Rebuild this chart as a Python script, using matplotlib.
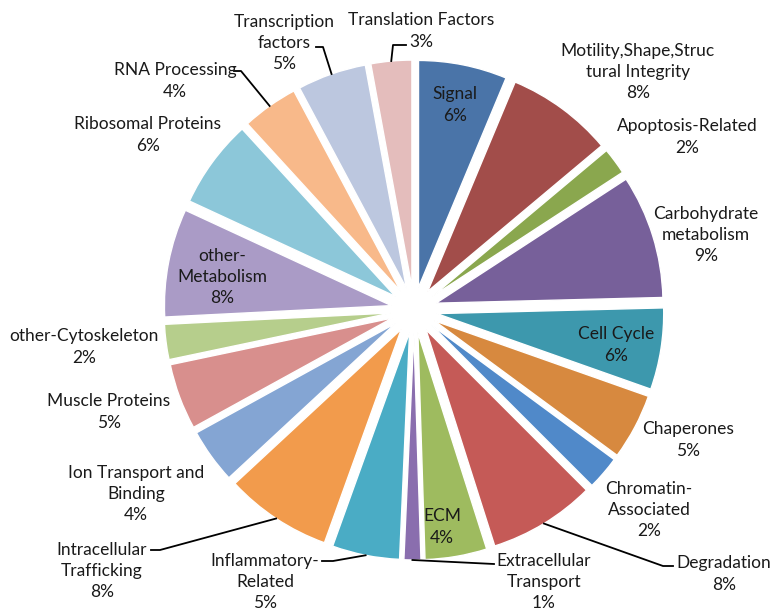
import matplotlib as mpl
mpl.use('Agg')
import matplotlib.pyplot as plt
import numpy as np

# data, clockwise from 12 o'clock
categories = ['Signal', 'Motility,Shape,Struc\ntural Integrity', 'Apoptosis-Related',
              'Carbohydrate\nmetabolism', 'Cell Cycle', 'Chaperones',
              'Chromatin-\nAssociated', 'Degradation', 'ECM', 'Extracellular\nTransport',
              'Inflammatory-\nRelated', 'Intracellular\nTrafficking', 'Ion Transport and\nBinding',
              'Muscle Proteins', 'other-Cytoskeleton', 'other-\nMetabolism',
              'Ribosomal Proteins', 'RNA Processing', 'Transcription\nfactors',
              'Translation Factors']
share = [6.3, 7.6, 1.9, 8.8, 5.8, 4.7, 2.4, 7.6, 4.4, 1.2,
         4.8, 7.6, 3.9, 4.7, 2.5, 7.7, 6.3, 4.0, 4.9, 2.9]

colors = ['#4a74a8', '#a24d4a', '#8aa74e', '#77609a', '#3d98ad', '#d7893f',
          '#5089c9', '#c55a57', '#9ebb5f', '#8a6eae', '#4aacc5', '#f29b4c',
          '#84a5d3', '#d88f8d', '#b6ce8c', '#aa9bc6', '#8cc7d9', '#f8b98a',
          '#bcc7df', '#e4bdbc']

# layout (image pixels, y measured downward)
W, H = 774, 611
cx, cy = 414, 310
R = 227
gap = 23
label_xy = [(455, 105), (638, 72), (687, 137), (706, 235), (616, 345), (688, 440),
            (649, 510), (724, 574), (442, 527), (544, 582), (265, 582), (102, 571),
            (136, 494), (109, 412), (84, 347), (222, 277), (148, 135), (175, 81),
            (284, 43), (421, 31)]
leaders = {7: [(673, 566), (663, 566)],
           9: [(494, 564)],
           10: [(322, 561), (333, 561)],
           11: [(151, 550), (160, 550)],
           17: [(234, 71), (241, 71)],
           18: [(316, 47), (323, 47)],
           19: [(406, 45), (393, 45)]}

plt.rcParams['font.family'] = ['Lato', 'DejaVu Sans']

fig = plt.figure(figsize=(W/100, H/100), dpi=100)
ax = fig.add_axes([0, 0, 1, 1])

# explode is in data units here
wedges, _ = ax.pie(share, colors=colors, startangle=90, counterclock=False,
                   center=(cx, H-cy), radius=R, explode=[gap]*len(share),
                   wedgeprops=dict(edgecolor='white', linewidth=1))
ax.set_xlim(0, W)
ax.set_ylim(0, H)
ax.set_aspect('equal')
ax.axis('off')

total = sum(share)
for i, (name, v) in enumerate(zip(categories, share)):
    x, y = label_xy[i]
    ax.text(x, H-y, '%s\n%.0f%%' % (name, 100*v/total), ha='center', va='center',
            fontsize=12.5, linespacing=1.42, color='#1a1a1a')

for i, pts in leaders.items():
    w = wedges[i]
    mid = np.deg2rad((w.theta1 + w.theta2)/2)
    ex = w.center[0] + w.r*np.cos(mid)
    ey = w.center[1] + w.r*np.sin(mid)
    xs = [p[0] for p in pts] + [ex]
    ys = [H-p[1] for p in pts] + [ey]
    ax.plot(xs, ys, color='black', linewidth=1.3)

fig.savefig('out.png', dpi=100)
plt.close()
